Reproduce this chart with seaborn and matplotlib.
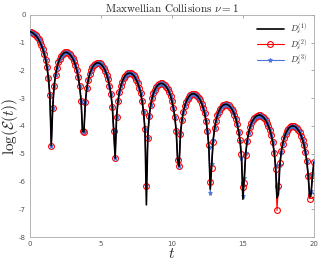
import numpy as np
import seaborn as sns
import matplotlib
matplotlib.use("Agg")
import matplotlib.pyplot as plt

# time samples, dt = 0.1 from 0 to 20
t = np.round(np.arange(201) * 0.1, 1)

# log(E(t)) for the three discretisations
d1 = [-0.60, -0.62, -0.65, -0.69, -0.74, -0.80, -0.88, -0.98, -1.09, -1.23,
      -1.40, -1.62, -1.89, -2.28, -2.90, -4.71, -3.34, -2.56, -2.16, -1.90,
      -1.71, -1.58, -1.48, -1.42, -1.37, -1.35, -1.35, -1.38, -1.42, -1.48,
      -1.56, -1.67, -1.81, -2.00, -2.24, -2.57, -3.09, -4.19, -4.21, -3.13,
      -2.65, -2.35, -2.14, -2.00, -1.89, -1.81, -1.76, -1.73, -1.73, -1.74,
      -1.78, -1.83, -1.91, -2.01, -2.15, -2.32, -2.55, -2.85, -3.31, -4.19,
      -5.16, -3.66, -3.11, -2.78, -2.56, -2.40, -2.28, -2.20, -2.14, -2.11,
      -2.10, -2.10, -2.13, -2.18, -2.25, -2.35, -2.47, -2.63, -2.83, -3.11,
      -3.50, -4.16, -6.84, -4.35, -3.64, -3.26, -3.00, -2.82, -2.69, -2.60,
      -2.53, -2.49, -2.47, -2.47, -2.49, -2.53, -2.59, -2.67, -2.78, -2.92,
      -3.11, -3.34, -3.67, -4.17, -5.22, -5.45, -4.30, -3.80, -3.50, -3.28,
      -3.13, -3.02, -2.94, -2.88, -2.85, -2.84, -2.85, -2.88, -2.92, -2.99,
      -3.08, -3.20, -3.35, -3.55, -3.81, -4.17, -4.75, -6.28, -5.37, -4.52,
      -4.09, -3.82, -3.62, -3.48, -3.38, -3.30, -3.25, -3.23, -3.22, -3.23,
      -3.26, -3.31, -3.38, -3.47, -3.59, -3.74, -3.94, -4.20, -4.56, -5.14,
      -6.64, -5.81, -4.96, -4.53, -4.25, -4.05, -3.90, -3.80, -3.72, -3.66,
      -3.63, -3.61, -3.61, -3.63, -3.67, -3.72, -3.79, -3.89, -4.00, -4.15,
      -4.34, -4.59, -4.93, -5.45, -6.59, -6.47, -5.42, -4.94, -4.65, -4.44,
      -4.29, -4.18, -4.10, -4.04, -4.01, -4.00, -4.01, -4.03, -4.08, -4.15,
      -4.23, -4.35, -4.50, -4.68, -4.93, -5.27, -5.80, -6.55, -6.45, -5.78,
      -5.31]

d2 = [-0.60, -0.62, -0.65, -0.69, -0.74, -0.80, -0.88, -0.98, -1.09, -1.23,
      -1.40, -1.62, -1.89, -2.28, -2.90, -4.71, -3.34, -2.56, -2.16, -1.90,
      -1.71, -1.58, -1.48, -1.42, -1.37, -1.35, -1.35, -1.38, -1.42, -1.48,
      -1.56, -1.67, -1.81, -2.00, -2.24, -2.57, -3.09, -4.19, -4.21, -3.13,
      -2.65, -2.35, -2.14, -2.00, -1.89, -1.81, -1.76, -1.73, -1.73, -1.74,
      -1.78, -1.83, -1.91, -2.01, -2.15, -2.32, -2.55, -2.85, -3.31, -4.19,
      -5.16, -3.66, -3.11, -2.78, -2.56, -2.40, -2.28, -2.20, -2.14, -2.11,
      -2.10, -2.10, -2.13, -2.18, -2.25, -2.35, -2.47, -2.63, -2.83, -3.11,
      -3.50, -4.10, -6.15, -4.43, -3.64, -3.26, -3.00, -2.82, -2.69, -2.60,
      -2.53, -2.49, -2.47, -2.47, -2.49, -2.53, -2.59, -2.67, -2.78, -2.92,
      -3.11, -3.34, -3.67, -4.17, -5.22, -5.45, -4.30, -3.80, -3.50, -3.28,
      -3.13, -3.02, -2.94, -2.88, -2.85, -2.84, -2.85, -2.88, -2.92, -2.99,
      -3.08, -3.20, -3.35, -3.55, -3.81, -4.17, -4.69, -6.01, -5.51, -4.58,
      -4.09, -3.82, -3.62, -3.48, -3.38, -3.30, -3.25, -3.23, -3.22, -3.23,
      -3.26, -3.31, -3.38, -3.47, -3.59, -3.74, -3.94, -4.20, -4.50, -5.02,
      -6.21, -6.05, -5.04, -4.53, -4.25, -4.05, -3.90, -3.80, -3.72, -3.66,
      -3.63, -3.61, -3.61, -3.63, -3.67, -3.72, -3.79, -3.89, -4.00, -4.15,
      -4.34, -4.59, -4.99, -5.56, -7.04, -6.18, -5.32, -4.89, -4.65, -4.44,
      -4.29, -4.18, -4.10, -4.04, -4.01, -4.00, -4.01, -4.03, -4.08, -4.15,
      -4.23, -4.35, -4.50, -4.68, -4.93, -5.27, -5.80, -6.62, -6.50, -5.78,
      -5.31]

d3 = [-0.60, -0.62, -0.65, -0.69, -0.74, -0.80, -0.88, -0.98, -1.09, -1.23,
      -1.40, -1.62, -1.89, -2.28, -2.90, -4.71, -3.34, -2.56, -2.16, -1.90,
      -1.71, -1.58, -1.48, -1.42, -1.37, -1.35, -1.35, -1.38, -1.42, -1.48,
      -1.56, -1.67, -1.81, -2.00, -2.24, -2.57, -3.09, -4.19, -4.21, -3.13,
      -2.65, -2.35, -2.14, -2.00, -1.89, -1.81, -1.76, -1.73, -1.73, -1.74,
      -1.78, -1.83, -1.91, -2.01, -2.15, -2.32, -2.55, -2.85, -3.31, -4.19,
      -5.16, -3.66, -3.11, -2.78, -2.56, -2.40, -2.28, -2.20, -2.14, -2.11,
      -2.10, -2.10, -2.13, -2.18, -2.25, -2.35, -2.47, -2.63, -2.83, -3.11,
      -3.50, -4.10, -6.15, -4.43, -3.64, -3.26, -3.00, -2.82, -2.69, -2.60,
      -2.53, -2.49, -2.47, -2.47, -2.49, -2.53, -2.59, -2.67, -2.78, -2.92,
      -3.11, -3.34, -3.67, -4.17, -5.22, -5.45, -4.30, -3.80, -3.50, -3.28,
      -3.13, -3.02, -2.94, -2.88, -2.85, -2.84, -2.85, -2.88, -2.92, -2.99,
      -3.08, -3.20, -3.35, -3.55, -3.81, -4.17, -4.75, -6.40, -5.37, -4.52,
      -4.09, -3.82, -3.62, -3.48, -3.38, -3.30, -3.25, -3.23, -3.22, -3.23,
      -3.26, -3.31, -3.38, -3.47, -3.59, -3.74, -3.94, -4.20, -4.56, -5.14,
      -6.52, -5.87, -4.96, -4.53, -4.25, -4.05, -3.90, -3.80, -3.72, -3.66,
      -3.63, -3.61, -3.61, -3.63, -3.67, -3.72, -3.79, -3.89, -4.00, -4.15,
      -4.34, -4.59, -4.93, -5.45, -6.15, -6.25, -5.42, -4.94, -4.65, -4.44,
      -4.29, -4.18, -4.10, -4.04, -4.01, -4.00, -4.01, -4.03, -4.08, -4.15,
      -4.23, -4.35, -4.50, -4.68, -4.93, -5.27, -5.80, -6.45, -6.35, -5.78,
      -5.31]

labels = [r'$D_s^{(1)}$', r'$D_s^{(2)}$', r'$D_s^{(3)}$']
xticks = [0, 5, 10, 15, 20]
yticks = [-8, -7, -6, -5, -4, -3, -2, -1, 0]

sns.set_style("white")
plt.rcParams['font.family'] = ['cmr10', 'DejaVu Sans']
plt.rcParams['mathtext.fontset'] = 'cm'
plt.rcParams['axes.formatter.use_mathtext'] = True

fig = plt.figure(figsize=(3.19, 2.66), dpi=100)
ax = fig.add_axes([0.094, 0.109, 0.890, 0.835])

sns.lineplot(x=t, y=d1, ax=ax, color='black', lw=1.2, zorder=4, label=labels[0])
sns.lineplot(x=t, y=d2, ax=ax, color='red', lw=0.8, marker='o', markersize=4.2,
             markerfacecolor='none', markeredgecolor='red', markeredgewidth=0.8,
             zorder=2, label=labels[1])
sns.lineplot(x=t, y=d3, ax=ax, color='#4a72d8', lw=0.8, marker='*', markersize=3.6,
             markeredgecolor='#4a72d8', markeredgewidth=0.5, zorder=3, label=labels[2])

ax.set_xlim(0, 20)
ax.set_ylim(-8, 0)
ax.set_xticks(xticks)
ax.set_xticklabels([str(v) for v in xticks])
ax.set_yticks(yticks)
ax.set_yticklabels([str(v) for v in yticks])
ax.tick_params(direction='in', length=2.5, width=0.6, colors='#999999', labelcolor='#555555',
               labelsize=5, top=True, right=True, pad=3)
for lab in ax.get_xticklabels() + ax.get_yticklabels():
    lab.set_family('DejaVu Sans')
for s in ax.spines.values():
    s.set_color('#aaaaaa')
    s.set_linewidth(0.6)

ax.set_title(r'Maxwellian Collisions $\nu = 1$', fontsize=8, pad=2)
ax.set_xlabel(r'$t$', fontsize=11, labelpad=0)
ax.set_ylabel(r'$\log(\mathcal{E}(t))$', fontsize=11)
ax.yaxis.set_label_coords(-0.035, 0.5)
ax.legend(loc='upper right', frameon=False, fontsize=6, handlelength=3.2,
          labelspacing=0.15, borderaxespad=0.4)

fig.savefig('out.png', dpi=100)
